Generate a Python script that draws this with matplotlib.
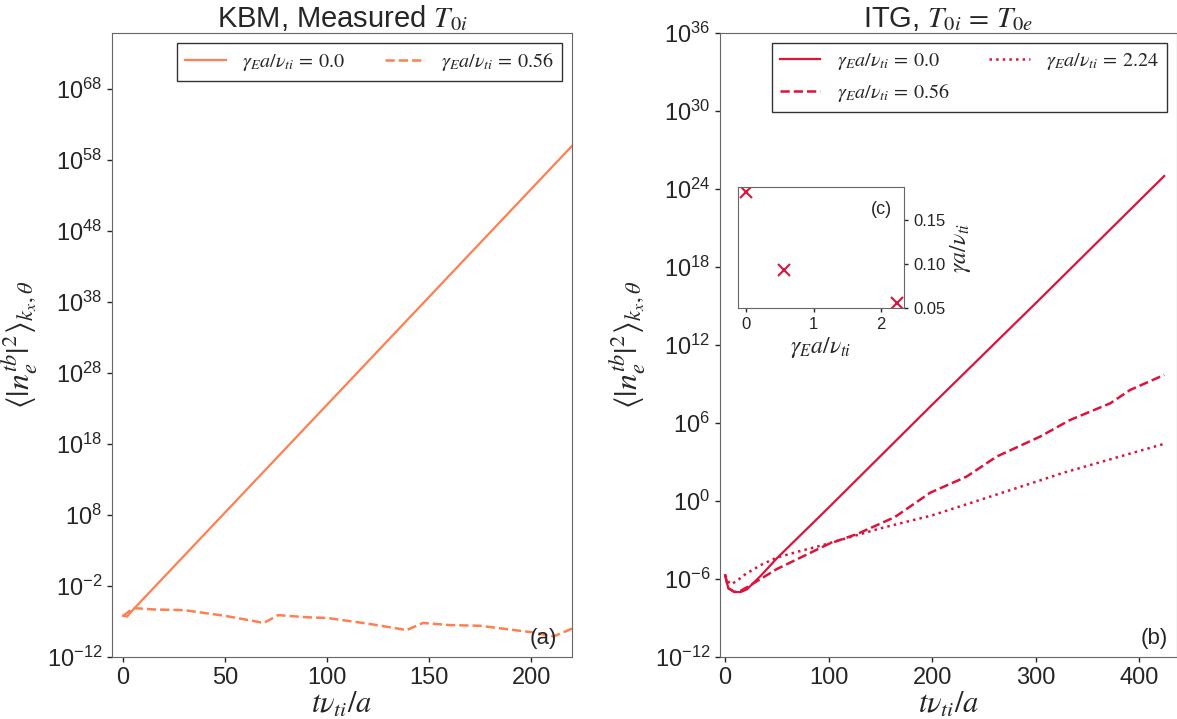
import numpy as np
import matplotlib
matplotlib.use("Agg")
import matplotlib.pyplot as plt
from matplotlib.ticker import FixedLocator, NullLocator

# values (time, log10 of the amplitude)
kbm_t0 = [0, 2, 5, 220]
kbm_log0 = [-6.2, -6.3, -5.3, 60.0]
kbm_t56 = [0, 1, 5, 15, 30, 50, 69, 76, 90, 100, 120, 139, 147, 160, 175, 200, 211, 215, 220]
kbm_log56 = [-6.2, -6.0, -5.1, -5.3, -5.4, -6.2, -7.2, -6.1, -6.4, -6.5, -7.3, -8.2,
             -7.2, -7.5, -7.6, -8.5, -9.1, -8.6, -8.0]

itg_t0 = [0, 3, 9, 15, 21, 35, 50, 100, 198, 303, 424]
itg_log0 = [-5.7, -6.7, -7.0, -7.0, -6.8, -5.7, -4.4, -0.5, 7.26, 15.46, 25.0]
itg_t56 = [0, 3, 9, 15, 21, 50, 100, 128, 164, 198, 233, 262, 304, 333, 372, 391, 424]
itg_log56 = [-5.7, -6.7, -7.0, -6.9, -6.64, -5.23, -3.3, -2.52, -1.23, 0.64, 1.87, 3.41,
             4.95, 6.23, 7.52, 8.54, 9.7]
itg_t224 = [0, 3, 6, 12, 20, 35, 50, 70, 93, 150, 200, 246, 327, 424]
itg_log224 = [-5.7, -6.2, -6.4, -6.1, -5.6, -4.9, -4.35, -3.9, -3.42, -2.1, -1.1, 0.08, 2.18, 4.4]

shear = [0.0, 0.56, 2.24]
growth = [0.182, 0.093, 0.056]

kbm_yticks = [-12, -2, 8, 18, 28, 38, 48, 58, 68]
itg_yticks = [-12, -6, 0, 6, 12, 18, 24, 30, 36]

plt.rcParams['font.family'] = ['Liberation Sans', 'DejaVu Sans']
plt.rcParams['mathtext.fontset'] = 'stix'
plt.rcParams['text.color'] = '0.15'
plt.rcParams['axes.labelcolor'] = '0.15'
plt.rcParams['xtick.color'] = '0.15'
plt.rcParams['ytick.color'] = '0.15'
plt.rcParams['axes.edgecolor'] = '0.4'

orange = 'coral'
red = 'crimson'
ylab = r'$\langle |n_e^{tb}|^2 \rangle_{k_x,\theta}$'
xlab = r'$t\nu_{ti}/a$'
leg = r'$\gamma_E a/\nu_{ti}\,=\,%s$'

fig = plt.figure(figsize=(11.77, 7.19), dpi=100)
ax1 = fig.add_axes([0.0952, 0.0862, 0.3908, 0.8679])
ax2 = fig.add_axes([0.6117, 0.0862, 0.3880, 0.8679])
ax3 = fig.add_axes([0.627, 0.5716, 0.141, 0.168])

ax1.semilogy(kbm_t0, 10.0 ** np.array(kbm_log0), color=orange, lw=1.6, label=leg % '0.0')
ax1.semilogy(kbm_t56, 10.0 ** np.array(kbm_log56), color=orange, lw=1.8, ls='--',
             label=leg % '0.56')
ax1.set_xlim(-5.4, 220)
ax1.set_ylim(1e-12, 10.0 ** 75.9)
ax1.yaxis.set_major_locator(FixedLocator([10.0 ** k for k in kbm_yticks]))
ax1.set_title(r'KBM, Measured $T_{0i}$', fontsize=21, pad=4)
ax1.legend(loc='upper right', ncol=2, fontsize=14.5, fancybox=False,
           edgecolor='0.2', framealpha=1)
ax1.text(0.967, 0.013, '(a)', transform=ax1.transAxes, ha='right', va='bottom', fontsize=16)

ax2.semilogy(itg_t0, 10.0 ** np.array(itg_log0), color=red, lw=1.6, label=leg % '0.0')
ax2.semilogy(itg_t56, 10.0 ** np.array(itg_log56), color=red, lw=1.8, ls='--',
             label=leg % '0.56')
ax2.semilogy(itg_t224, 10.0 ** np.array(itg_log224), color=red, lw=1.8, ls=':',
             label=leg % '2.24')
ax2.set_xlim(-5, 436)
ax2.set_ylim(1e-12, 1e36)
ax2.yaxis.set_major_locator(FixedLocator([10.0 ** k for k in itg_yticks]))
ax2.set_title(r'ITG, $T_{0i}\,=\,T_{0e}$', fontsize=21, pad=4)
ax2.legend(loc='upper right', ncol=2, fontsize=14.5, fancybox=False,
           edgecolor='0.2', framealpha=1)
ax2.text(0.98, 0.013, '(b)', transform=ax2.transAxes, ha='right', va='bottom', fontsize=16)

for ax in (ax1, ax2):
    ax.yaxis.set_minor_locator(NullLocator())
    ax.tick_params(axis='both', which='major', labelsize=17, direction='out', length=3.5, width=1)
    ax.set_xlabel(xlab, fontsize=22, labelpad=1)
    ax.set_ylabel(ylab, fontsize=23)

ax3.plot(shear, growth, ls='none', marker='x', ms=8, mew=1.5, color=red)
ax3.set_xlim(-0.12, 2.34)
ax3.set_ylim(0.05, 0.1875)
ax3.set_xticks([0, 1, 2])
ax3.set_yticks([0.05, 0.10, 0.15])
ax3.yaxis.tick_right()
ax3.yaxis.set_label_position('right')
ax3.tick_params(labelsize=12, direction='out', length=3, width=1)
ax3.set_xlabel(r'$\gamma_E a/\nu_{ti}$', fontsize=17, labelpad=2)
ax3.set_ylabel(r'$\gamma a/\nu_{ti}$', fontsize=17, labelpad=2)
ax3.text(0.93, 0.89, '(c)', transform=ax3.transAxes, ha='right', va='top', fontsize=13)

fig.savefig('out.png', dpi=100)
